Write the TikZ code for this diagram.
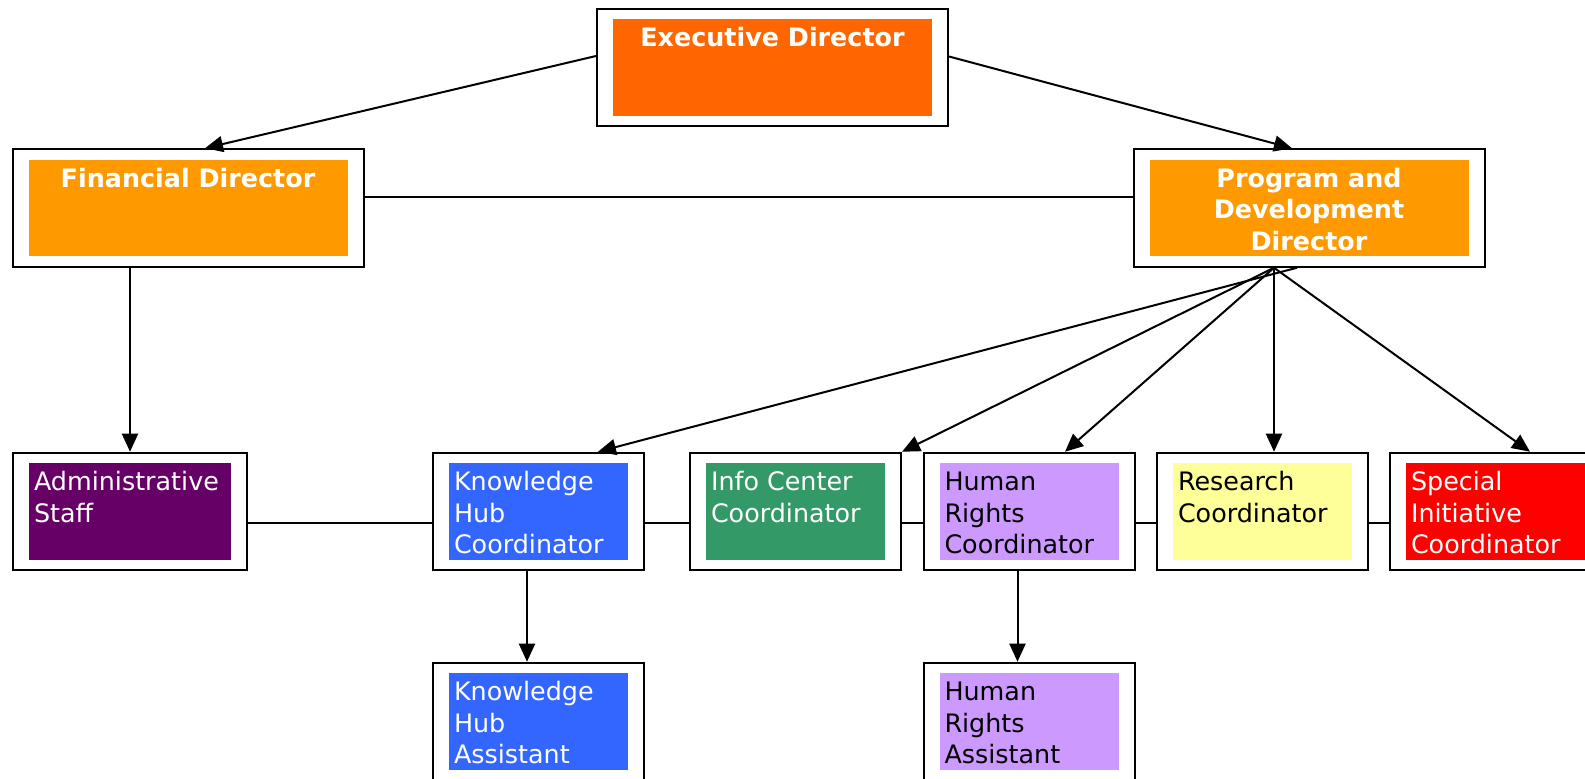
\documentclass[tikz,border=0pt]{standalone}
\usepackage{fontspec}
\setmainfont{DejaVu Sans}
\usepackage{xcolor}
\usetikzlibrary{arrows.meta}

\definecolor{execorange}{HTML}{FF6600}
\definecolor{dirorange}{HTML}{FF9900}
\definecolor{adminpurple}{HTML}{660066}
\definecolor{hubblue}{HTML}{3366FF}
\definecolor{infogreen}{HTML}{339966}
\definecolor{rightslilac}{HTML}{CC99FF}
\definecolor{researchyellow}{HTML}{FFFF99}
\definecolor{specialred}{HTML}{FF0000}

\newcommand{\toptext}[1]{\parbox[c][48.25pt][t]{159.5pt}{\centering\bfseries\vspace*{2.7pt}\strut#1}}
\newcommand{\lowtext}[2][89.5pt]{\parbox[c][48.25pt][t]{#1}{\raggedright\leftskip=2.5pt\vspace*{2.7pt}\strut#2}}

\begin{document}
\begin{tikzpicture}[x=0.5pt,y=-0.5pt,
	font=\fontsize{12.7pt}{15.75pt}\selectfont,
	unit/.style={draw,line width=1pt,fill=white,inner xsep=8pt,inner ysep=5.25pt,text=white,
		path picture={\fill[#1] ([xshift=8pt,yshift=-5.25pt]path picture bounding box.north west) rectangle ([xshift=-8pt,yshift=5.25pt]path picture bounding box.south east);}},
	link/.style={line width=1pt},
	arr/.style={link,-{Triangle[length=9pt,width=8pt]}}]
	\useasboundingbox (0,0) rectangle (1585,779);

	% directors
	\node[unit=execorange] (exec) at (772.5,67.5) {\toptext{Executive Director}};
	\node[unit=dirorange] (fin) at (188,208) {\toptext{Financial Director}};
	\node[unit=dirorange] (prog) at (1309,208) {\toptext{Program and\\ Development\\ Director}};

	% coordinators
	\node[unit=adminpurple] (admin) at (130,511.5) {\lowtext[101pt]{Administrative\\ Staff}};
	\node[unit=hubblue] (kh) at (538.5,511.5) {\lowtext{Knowledge\\ Hub\\ Coordinator}};
	\node[unit=infogreen] (info) at (795.5,511.5) {\lowtext{Info Center\\ Coordinator}};
	\node[unit=rightslilac,text=black] (hr) at (1029,511.5) {\lowtext{Human\\ Rights\\ Coordinator}};
	\node[unit=researchyellow,text=black] (res) at (1262.5,511.5) {\lowtext{Research\\ Coordinator}};
	\node[unit=specialred] (spec) at (1495.5,511.5) {\lowtext{Special\\ Initiative\\ Coordinator}};

	% assistants
	\node[unit=hubblue] (kha) at (538.5,721.5) {\lowtext{Knowledge\\ Hub\\ Assistant}};
	\node[unit=rightslilac,text=black] (hra) at (1029,721.5) {\lowtext{Human\\ Rights\\ Assistant}};

	\draw[arr] ([yshift=5.75pt]exec.west) -- ([xshift=8.5pt]fin.north);
	\draw[arr] ([yshift=5.5pt]exec.east) -- ([xshift=-8.5pt]prog.north);
	\draw[link] ([yshift=5.5pt]fin.east) -- ([yshift=5.5pt]prog.west);
	\draw[arr] (admin.north |- fin.south) -- (admin.north);

	\coordinate (fan) at ([xshift=-17.5pt]prog.south);
	\draw[arr] ([xshift=-6pt]prog.south) -- ([xshift=29.75pt]kh.north);
	\draw[arr] (fan) -- (info.north east);
	\draw[arr] (fan) -- ([xshift=18pt]hr.north);
	\draw[arr] (fan) -- (res.north -| fan);
	\draw[arr] (fan) -- ([xshift=17.25pt]spec.north);

	\draw[link] ([yshift=-5.75pt]admin.east) -- ([yshift=-5.75pt]kh.west);
	\draw[link] ([yshift=-5.75pt]kh.east) -- ([yshift=-5.75pt]info.west);
	\draw[link] ([yshift=-5.75pt]info.east) -- ([yshift=-5.75pt]hr.west);
	\draw[link] ([yshift=-5.75pt]hr.east) -- ([yshift=-5.75pt]res.west);
	\draw[link] ([yshift=-5.75pt]res.east) -- ([yshift=-5.75pt]spec.west);

	\draw[arr] ([xshift=-5.75pt]kh.south) -- ([xshift=-5.75pt]kha.north);
	\draw[arr] ([xshift=-5.75pt]hr.south) -- ([xshift=-5.75pt]hra.north);
\end{tikzpicture}
\end{document}
